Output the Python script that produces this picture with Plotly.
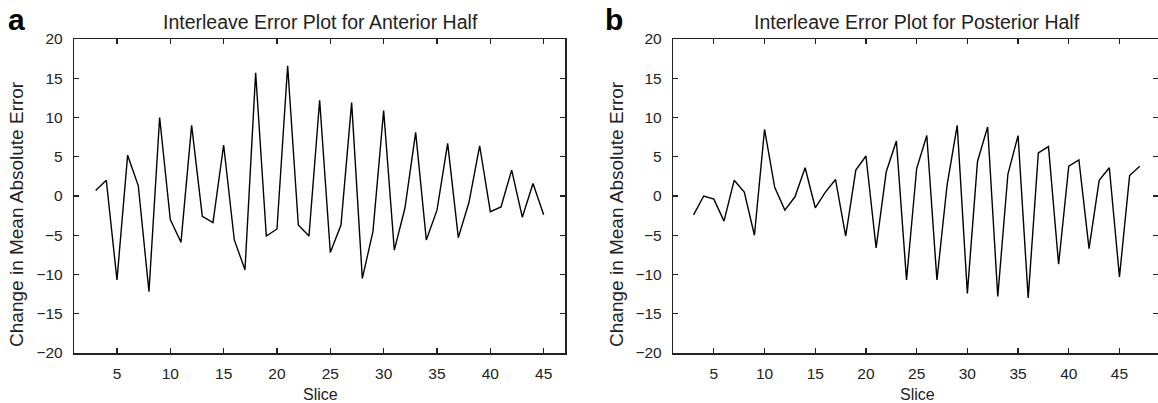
import plotly.graph_objects as go

# ---- data ----
slices_a = list(range(3, 46))
err_a = [0.7, 2.0, -10.7, 5.2, 1.3, -12.2, 10.0, -3.0, -5.9, 9.0,
         -2.6, -3.4, 6.5, -5.6, -9.4, 15.7, -5.1, -4.2, 16.6, -3.7,
         -5.1, 12.2, -7.2, -3.7, 11.9, -10.5, -4.5, 10.9, -6.9, -1.5,
         8.1, -5.6, -1.8, 6.7, -5.3, -0.8, 6.4, -2.0, -1.4, 3.3,
         -2.7, 1.6, -2.4]

slices_b = list(range(3, 48))
err_b = [-2.4, 0.0, -0.4, -3.2, 2.0, 0.5, -5.0, 8.5, 1.1, -1.8,
         -0.1, 3.6, -1.5, 0.5, 2.1, -5.1, 3.3, 5.1, -6.6, 3.1,
         7.0, -10.7, 3.5, 7.7, -10.7, 1.4, 9.0, -12.4, 4.4, 8.8,
         -12.8, 2.8, 7.7, -13.0, 5.5, 6.3, -8.7, 3.8, 4.6, -6.7,
         2.0, 3.6, -10.3, 2.6, 3.8]

x_ticks = [5, 10, 15, 20, 25, 30, 35, 40, 45]
y_ticks = [-20, -15, -10, -5, 0, 5, 10, 15, 20]
title_a = "Interleave Error Plot for Anterior Half"
title_b = "Interleave Error Plot for Posterior Half"
x_label = "Slice"
y_label = "Change in Mean Absolute Error"

# ---- figure ----
W, H = 1158, 403
ML, MR, MT, MB = 0, 0, 38.5, 50
FONT = "Liberation Sans, Arial, sans-serif"

fig = go.Figure()
fig.add_trace(go.Scatter(x=slices_a, y=err_a, mode="lines",
                         line=dict(color="black", width=1.4),
                         xaxis="x", yaxis="y", showlegend=False))
fig.add_trace(go.Scatter(x=slices_b, y=err_b, mode="lines",
                         line=dict(color="black", width=1.4),
                         xaxis="x2", yaxis="y2", showlegend=False))

axis_common = dict(
    ticks="inside", ticklen=5, tickwidth=1.2, tickcolor="#222",
    showline=True, linecolor="#222", linewidth=1.5, mirror="ticks",
    showgrid=False, zeroline=False, automargin=False,
    tickfont=dict(family=FONT, size=15.5, color="#222"),
)

xa_dom = [74.3 / W, 565 / W]
xb_dom = [673.3 / W, 1.0]
xb_max = 1 + (W - 673.3) / 10.14

fig.update_layout(
    template="none",
    width=W, height=H,
    margin=dict(l=ML, r=MR, t=MT, b=MB, autoexpand=False),
    paper_bgcolor="white", plot_bgcolor="white",
    xaxis=dict(domain=xa_dom, range=[1, 47], tickvals=x_ticks,
               ticklabelstandoff=6, anchor="y", **axis_common),
    yaxis=dict(domain=[0, 1], range=[-20, 20], tickvals=y_ticks,
               ticklabelstandoff=7, anchor="x", **axis_common),
    xaxis2=dict(domain=xb_dom, range=[1, xb_max], tickvals=x_ticks,
                ticklabelstandoff=6, anchor="y2", **axis_common),
    yaxis2=dict(domain=[0, 1], range=[-20, 20], tickvals=y_ticks,
                ticklabelstandoff=7, anchor="x2", **axis_common),
)

def py(p):
    return (H - MB - p) / (H - MB - MT)

ann = []
for cx, title in [(320, title_a), (917, title_b)]:
    ann.append(dict(text=title, x=cx / W, y=py(21), xref="paper", yref="paper",
                    xanchor="center", yanchor="middle", showarrow=False,
                    font=dict(family=FONT, size=19.5, color="#222")))
    ann.append(dict(text=x_label, x=cx / W, y=py(395), xref="paper", yref="paper",
                    xanchor="center", yanchor="middle", showarrow=False,
                    font=dict(family=FONT, size=16, color="#222")))
for lx in [16.7, 616.7]:
    ann.append(dict(text=y_label, x=lx / W, y=py(214), xref="paper", yref="paper",
                    xanchor="center", yanchor="middle", showarrow=False,
                    textangle=-90,
                    font=dict(family=FONT, size=19, color="#222")))
for lx, letter in [(16.5, "a"), (614, "b")]:
    ann.append(dict(text="<b>" + letter + "</b>", x=lx / W, y=py(19),
                    xref="paper", yref="paper",
                    xanchor="center", yanchor="middle", showarrow=False,
                    font=dict(family=FONT, size=30, color="black")))
fig.update_layout(annotations=ann)

fig.write_html("out.html",
               config={"displayModeBar": False, "staticPlot": True},
               post_script="document.body.style.margin='0';"
                           "document.body.style.overflow='hidden';")
